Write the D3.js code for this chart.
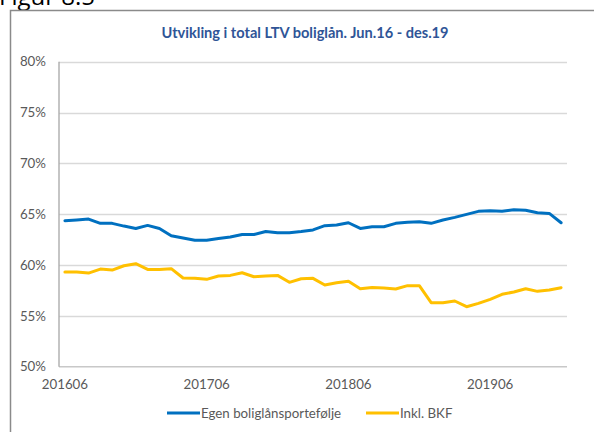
<!DOCTYPE html>
<html>
<head>
<meta charset="utf-8">
<script src="https://cdn.jsdelivr.net/npm/d3@7"></script>
<style>
  body { margin: 0; background: #fff; }
  svg { display: block; }
</style>
</head>
<body>
<svg id="chart" width="594" height="432"></svg>
<script>
// months, Jun 2016 - Dec 2019
var categories = [
    "201606", "201607", "201608", "201609", "201610", "201611", "201612",
    "201701", "201702", "201703", "201704", "201705", "201706", "201707", "201708", "201709", "201710", "201711", "201712",
    "201801", "201802", "201803", "201804", "201805", "201806", "201807", "201808", "201809", "201810", "201811", "201812",
    "201901", "201902", "201903", "201904", "201905", "201906", "201907", "201908", "201909", "201910", "201911", "201912"
];

var egen = [
    64.36, 64.43, 64.52, 64.10, 64.10, 63.83, 63.60, 63.90, 63.60, 62.88, 62.65,
    62.43, 62.43, 62.60, 62.75, 63.00, 63.00, 63.30, 63.18, 63.18, 63.30, 63.45,
    63.87, 63.93, 64.16, 63.60, 63.77, 63.77, 64.10, 64.20, 64.26, 64.10, 64.43,
    64.69, 64.98, 65.28, 65.34, 65.28, 65.44, 65.38, 65.15, 65.08, 64.16
];

var inklBkf = [
    59.31, 59.31, 59.21, 59.60, 59.50, 59.93, 60.13, 59.57, 59.57, 59.64, 58.72,
    58.69, 58.59, 58.92, 58.98, 59.24, 58.85, 58.92, 58.98, 58.30, 58.65, 58.69,
    58.03, 58.26, 58.40, 57.67, 57.80, 57.73, 57.64, 57.97, 57.97, 56.30, 56.30,
    56.46, 55.90, 56.23, 56.63, 57.12, 57.35, 57.67, 57.41, 57.54, 57.77
];

var tickLabels = ["201606", "201706", "201806", "201906"];
var yTicks = [50, 55, 60, 65, 70, 75, 80];

var seriesNames = ["Egen boliglånsportefølje", "Inkl. BKF"];
var seriesColors = ["#0070C0", "#FFC000"];

var font = "Lato, 'Open Sans', sans-serif",
    labelFont = "13.3px " + font,
    labelColor = "#595959",
    gridColor = "#d9d9d9";

var margin = { left: 59, right: 27, top: 61.7, bottom: 65.3 };

var svg = d3.select("#chart"),
    width = +svg.attr("width"),
    height = +svg.attr("height");

// caption above the frame, cut off by the top edge like in the source
svg.append("text")
    .attr("x", -1).attr("y", 5)
    .attr("fill", "#000")
    .style("font", "24px 'Open Sans', sans-serif")
    .text("Figur 8.5");

// chart frame (runs off the right and bottom edges)
svg.append("rect")
    .attr("x", 10.5).attr("y", 10.5)
    .attr("width", 620).attr("height", 460)
    .attr("fill", "#fff")
    .attr("stroke", "#8a8a8a")
    .attr("stroke-width", 1.5);

var x = d3.scaleBand()
    .domain(categories)
    .range([margin.left, width - margin.right])
    .padding(0);

var y = d3.scaleLinear()
    .domain([50, 80])
    .range([height - margin.bottom, margin.top]);

var xc = function (d) { return x(d) + x.bandwidth() / 2; };

// title
svg.append("text")
    .attr("x", 305).attr("y", 33)
    .attr("text-anchor", "middle")
    .attr("dy", "0.35em")
    .attr("fill", "#2F5597")
    .style("font", "bold 14.6px " + font)
    .text("Utvikling i total LTV boliglån. Jun.16 - des.19");

// gridlines
svg.append("g")
    .selectAll("line")
    .data(yTicks.filter(function (d) { return d > 50; }))
    .enter().append("line")
    .attr("x1", x.range()[0]).attr("x2", x.range()[1])
    .attr("y1", function (d) { return Math.round(y(d)) + 0.5; })
    .attr("y2", function (d) { return Math.round(y(d)) + 0.5; })
    .attr("stroke", gridColor)
    .attr("stroke-width", 1.3);

// x axis line
svg.append("line")
    .attr("x1", x.range()[0]).attr("x2", x.range()[1])
    .attr("y1", y(50)).attr("y2", y(50))
    .attr("stroke", "#c8c8c8")
    .attr("stroke-width", 1.5);

// y axis line
svg.append("line")
    .attr("x1", x.range()[0]).attr("x2", x.range()[0])
    .attr("y1", y(80)).attr("y2", y(50))
    .attr("stroke", "#a6a6a6")
    .attr("stroke-width", 1.3);

// y tick labels
svg.append("g")
    .selectAll("text")
    .data(yTicks)
    .enter().append("text")
    .attr("x", 46).attr("y", function (d) { return y(d); })
    .attr("dy", "0.35em")
    .attr("text-anchor", "end")
    .attr("fill", labelColor)
    .style("font", labelFont)
    .text(function (d) { return d + "%"; });

// x tick labels
svg.append("g")
    .selectAll("text")
    .data(tickLabels)
    .enter().append("text")
    .attr("x", function (d) { return xc(d); })
    .attr("y", y(50) + 18)
    .attr("dy", "0.35em")
    .attr("text-anchor", "middle")
    .attr("fill", labelColor)
    .style("font", labelFont)
    .text(function (d) { return d; });

// lines
var line = d3.line()
    .x(function (d, i) { return xc(categories[i]); })
    .y(function (d) { return y(d); });

[egen, inklBkf].forEach(function (values, k) {
    svg.append("path")
        .datum(values)
        .attr("d", line)
        .attr("fill", "none")
        .attr("stroke", seriesColors[k])
        .attr("stroke-width", 3)
        .attr("stroke-linejoin", "round")
        .attr("stroke-linecap", "round");
});

// legend
var legendX = [167, 366], legendY = 413;
var legend = svg.append("g").selectAll("g")
    .data(seriesNames)
    .enter().append("g")
    .attr("transform", function (d, i) { return "translate(" + legendX[i] + "," + legendY + ")"; });

legend.append("line")
    .attr("x1", 0).attr("x2", 33)
    .attr("y1", 0).attr("y2", 0)
    .attr("stroke", function (d, i) { return seriesColors[i]; })
    .attr("stroke-width", 3);

legend.append("text")
    .attr("x", 34).attr("y", 0)
    .attr("dy", "0.35em")
    .attr("fill", labelColor)
    .style("font", labelFont)
    .text(function (d) { return d; });
</script>
</body>
</html>
